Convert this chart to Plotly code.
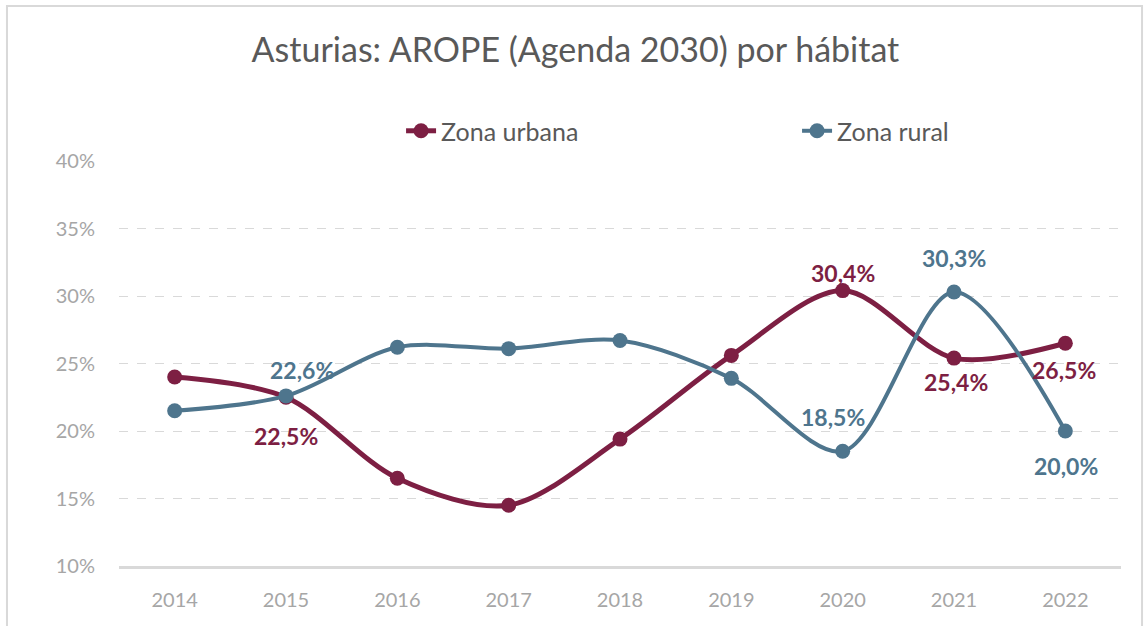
import plotly.graph_objects as go

years = ["2014", "2015", "2016", "2017", "2018", "2019", "2020", "2021", "2022"]
urbana = [24.0, 22.5, 16.5, 14.5, 19.4, 25.6, 30.4, 25.4, 26.5]
rural = [21.5, 22.6, 26.2, 26.1, 26.7, 23.9, 18.5, 30.3, 20.0]
# which points carry a data label
urbana_labeled = [False, True, False, False, False, False, True, True, True]
rural_labeled = [False, True, False, False, False, False, True, True, True]
y_ticks = [10, 15, 20, 25, 30, 35, 40]
y_ticktext = ["10%", "15%", "20%", "25%", "30%", "35%", "40%"]

# label offsets in pixels (xshift, yshift)
urbana_shift = {1: (0, -39), 6: (0, 18), 7: (2, -24), 8: (-1, -27)}
rural_shift = {1: (16, 26), 6: (-10, 34), 7: (0, 34), 8: (1, -35)}

C_URB = "#7d1f43"
C_RUR = "#4e758d"
FONT = "Lato"


def fmt(v):
    return f"{v:.1f}".replace(".", ",") + "%"


fig = go.Figure()
fig.add_trace(go.Scatter(
    x=years, y=urbana, name="Zona urbana", mode="lines+markers",
    line=dict(color=C_URB, width=5, shape="spline", smoothing=0.9),
    marker=dict(size=15, color=C_URB), legend="legend",
))
fig.add_trace(go.Scatter(
    x=years, y=rural, name="Zona rural", mode="lines+markers",
    line=dict(color=C_RUR, width=4, shape="spline", smoothing=0.9),
    marker=dict(size=15, color=C_RUR), legend="legend2",
))

annotations = []
for vals, flags, shifts, col in [(urbana, urbana_labeled, urbana_shift, C_URB),
                                 (rural, rural_labeled, rural_shift, C_RUR)]:
    for i, (v, f) in enumerate(zip(vals, flags)):
        if not f:
            continue
        xs, ys = shifts[i]
        annotations.append(dict(
            x=i, y=v, xref="x", yref="y", text=fmt(v), showarrow=False,
            xshift=xs, yshift=ys, xanchor="center", yanchor="middle",
            font=dict(family=FONT, size=23, color=col, weight="bold"),
        ))

legend_common = dict(orientation="h", xanchor="left", y=1.074, yanchor="middle",
                     font=dict(family=FONT, size=25, color="#595959"),
                     bgcolor="rgba(0,0,0,0)")

fig.update_layout(
    width=1144, height=626,
    margin=dict(l=119, r=23, t=161, b=60),
    paper_bgcolor="white", plot_bgcolor="white",
    font=dict(family=FONT, color="#595959"),
    title=dict(text="Asturias: AROPE (Agenda 2030) por hábitat", x=0.503, xref="container",
               xanchor="center", y=0.92, yref="container", yanchor="middle",
               font=dict(family=FONT, size=34, color="#595959")),
    showlegend=True,
    legend=dict(x=0.2815, **legend_common),
    legend2=dict(x=0.6767, **legend_common),
    annotations=annotations,
    shapes=[dict(type="rect", xref="paper", yref="paper", x0=-0.1118, x1=1.021,
                 y0=-0.3, y1=1.3827, line=dict(color="#d9d9d9", width=2), layer="below")],
)
fig.update_xaxes(
    type="category", range=[-0.5, 8.5], showgrid=False,
    showline=True, linecolor="#d9d9d9", linewidth=2.5,
    ticks="", tickfont=dict(family=FONT, size=20, color="#a6a6a6"),
    ticklabelstandoff=14,
)
fig.update_yaxes(
    range=[10, 40], tickvals=y_ticks, ticktext=y_ticktext,
    showgrid=True, gridcolor="#d9d9d9", griddash="dash", gridwidth=1.2,
    zeroline=False, showline=False, ticks="",
    tickfont=dict(family=FONT, size=20, color="#a6a6a6"),
    ticklabelstandoff=23,
)

fig.write_html("out.html", config={"displayModeBar": False},
               post_script="document.body.style.margin='0';")
